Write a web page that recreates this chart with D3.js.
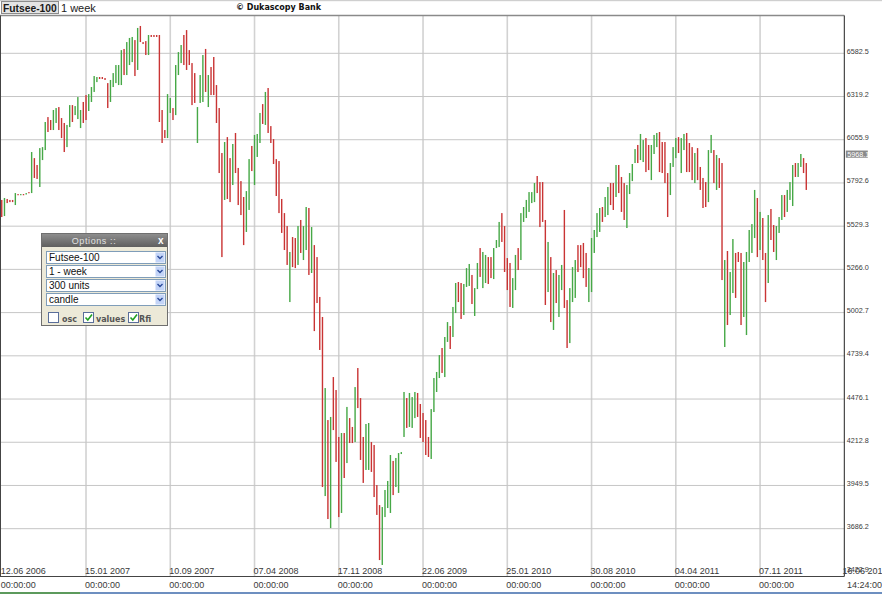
<!DOCTYPE html>
<html><head><meta charset="utf-8">
<script src="https://cdn.jsdelivr.net/npm/d3@7"></script>
<style>html,body{margin:0;padding:0;background:#fff;overflow:hidden}svg{display:block}</style>
</head><body><svg id="c" width="882" height="594"></svg>
<script>
// ---- data (weekly FTSE-100 candles) ----
const opens = [5689,5591,5695,5689,5689,5658,5725,5719,5725,5722,5737,5731,5944,5902,5768,5932,5993,6194,6176,6115,
6158,6255,6188,6158,6011,6133,6267,6206,6182,6127,6286,6328,6231,6286,6347,6407,6438,6438,6432,6401,
6286,6377,6401,6389,6389,6609,6450,6511,6529,6663,6481,6749,6651,6657,6572,6694,6694,6694,6694,6237,
6115,6066,6219,6249,6206,6450,6523,6694,6724,6602,6523,6462,6036,6280,6286,6609,6255,6499,6560,6389,
6249,5975,5689,6072,5944,5780,6097,5884,5804,5707,5494,5628,6018,5780,5951,6036,6273,6146,6371,6139,
6060,5938,5926,5695,5609,5530,5067,5463,5457,5293,5567,5323,5384,5640,5244,5414,5341,5098,4976,3885,
4348,3690,4610,4531,4245,3782,4269,4086,4360,4306,4214,4665,4482,4245,4044,4044,4214,4196,3952,3830,
3465,3757,3812,3782,4099,3940,3904,4141,4245,4482,4306,4300,4360,4513,4446,4391,4348,4245,4111,4397,
4519,4604,4787,4610,4824,4921,4854,5000,5189,5183,4988,5159,5165,5232,4982,5146,5396,5152,5183,5341,
5341,5207,5396,5402,5609,5530,5335,5305,5031,5140,5396,5323,5555,5579,5616,5670,5676,5835,5798,5798,
5567,5128,5341,4897,5262,4976,5140,5628,5079,4817,5067,5092,5414,5414,5427,5366,5067,5128,5366,5463,
5494,5646,5585,5597,5792,5792,5707,5902,5829,5792,5518,5725,5804,5914,6024,5932,5920,6066,6024,5810,
5969,6011,6103,6042,6042,5853,5719,5890,5944,6072,5853,5993,6097,6036,6011,5792,6005,5890,5823,5798,
5676,5975,5993,5750,5944,5914,4793,5378,4988,5122,5366,5372,5366,4976,4866,5311,5366,5457,5701,5384,
5579,5366,5183,5634,5536,5323,5488,5567,5719,5616,5689,5652,5914,5829,5890,5944,5914];
const closes = [5585,5701,5670,5676,5676,5731,5719,5725,5719,5731,5731,5981,5823,5817,6005,6011,6164,6103,6115,6237,
6249,6115,6066,5981,6146,6267,6164,6261,6316,6237,6158,6176,6334,6377,6444,6438,6426,6426,6420,6249,
6420,6462,6511,6511,6602,6450,6651,6676,6682,6444,6737,6651,6639,6572,6694,6682,6682,6682,6164,6036,
6066,6334,6310,6176,6511,6590,6633,6511,6481,6511,6267,6280,6255,6450,6572,6347,6450,6328,6328,6158,
5853,5341,6042,5695,5676,6030,5853,5658,5597,5414,5743,5938,5865,6085,6091,6219,6152,6347,6097,6036,
5908,5713,5609,5488,5384,5293,5372,5280,5274,5530,5366,5530,5646,5232,5524,4890,5061,4775,3940,4543,
3745,4367,4287,4093,3757,4269,3995,4428,4208,4208,4549,4421,4105,3965,4324,4330,4032,3879,3770,3495,
3818,3922,3977,4135,3891,4117,4147,4153,4519,4300,4513,4488,4519,4367,4239,4214,4135,4123,4415,4604,
4641,4744,4635,4854,4945,4781,5037,5183,5067,4964,5177,5274,5299,5055,5152,5305,5220,5372,5354,5177,
5213,5396,5445,5555,5433,5250,5140,5037,5213,5354,5262,5609,5646,5689,5737,5737,5792,5731,5524,5555,
5049,5433,4945,5244,5061,5232,5293,5031,4787,5152,5280,5323,5250,5280,5213,5159,5274,5457,5506,5609,
5640,5555,5707,5768,5658,5628,5902,5731,5616,5567,5780,5853,5908,5999,5914,6091,6054,5859,5871,6024,
6085,6097,5859,5853,5792,5585,5914,6011,6066,5975,6066,6091,5859,5859,5810,5975,5810,5750,5640,5646,
5993,6085,5792,5963,5762,5201,5323,4927,5250,5451,5092,5311,4927,5311,5372,5506,5542,5750,5341,5616,
5323,5067,5597,5445,5372,5530,5585,5719,5585,5750,5798,5902,5829,5914,5969,5853,5750];
const dateLabels = ["12.06 2006","15.01 2007","10.09 2007","07.04 2008","17.11 2008","22.06 2009","25.01 2010","30.08 2010","04.04 2011","07.11 2011"];
const timeLabels = ["00:00:00","00:00:00","00:00:00","00:00:00","00:00:00","00:00:00","00:00:00","00:00:00","00:00:00","00:00:00"];
const labelEvery = 31;
const priceTicks = [3422.9,3686.2,3949.5,4212.8,4476.1,4739.4,5002.7,5266.0,5529.3,5792.6,6055.9,6319.2,6582.5];
const lastPrice = 5968.1;
const lastDate = "16.06 2012";
const lastTime = "14:24:00";
const symbol = "Futsee-100";
const period = "1 week";
const copyright = "\u00a9 Dukascopy Bank";
const optionItems = ["Futsee-100","1 - week","300 units","candle"];
const checkLabels = ["osc","values","Rfi"];
const checkStates = [false,true,true];

// ---- drawing ----
const W = 882, H = 594;
const FONT = "'Liberation Sans', Arial, sans-serif";
const svg = d3.select("#c");
const n = opens.length;
const plotL = 0, plotR = 844.3, plotT = 15.5, plotB = 576.5;

const x = d3.scaleLinear().domain([0, n - 1]).range([1.75, 1.75 + (n - 1) * 2.718]);
const y = d3.scaleLinear().domain([3422.9, 6582.5]).range([571.9, 53.3]);

// top stripe
svg.append("rect").attr("x",0).attr("y",0).attr("width",W).attr("height",1.2).attr("fill","#cfcfcf");

// grid
const tickIdx = dateLabels.map((d,i)=>i*labelEvery);
svg.append("g").selectAll("line").data(tickIdx.slice(1)).join("line")
  .attr("x1",d=>x(d)).attr("x2",d=>x(d)).attr("y1",plotT).attr("y2",plotB)
  .attr("stroke","#d2d2d2").attr("stroke-width",1.6);
svg.append("g").selectAll("line").data(priceTicks.slice(1)).join("line")
  .attr("x1",plotL).attr("x2",plotR).attr("y1",d=>y(d)).attr("y2",d=>y(d))
  .attr("stroke","#c6c6c6").attr("stroke-width",1);

// candles
const idx = d3.range(n);
svg.append("g").selectAll("rect").data(idx).join("rect")
  .attr("x", i => x(i) - 0.7)
  .attr("width", 1.4)
  .attr("y", i => y(Math.max(opens[i], closes[i])))
  .attr("height", i => Math.max(1.2, Math.abs(y(opens[i]) - y(closes[i]))))
  .attr("fill", i => closes[i] >= opens[i] ? "#46a846" : "#c93434");

// frame
svg.append("line").attr("x1",0).attr("x2",plotR).attr("y1",plotT).attr("y2",plotT).attr("stroke","#8a8a8a").attr("stroke-width",1.5);
svg.append("line").attr("x1",0.5).attr("x2",0.5).attr("y1",plotT).attr("y2",plotB).attr("stroke","#444").attr("stroke-width",1);
svg.append("line").attr("x1",plotR).attr("x2",plotR).attr("y1",plotT).attr("y2",plotB).attr("stroke","#222").attr("stroke-width",1);
svg.append("line").attr("x1",0).attr("x2",plotR).attr("y1",plotB).attr("y2",plotB).attr("stroke","#444").attr("stroke-width",1);

// y axis (right)
const yAxis = d3.axisRight(y).tickValues(priceTicks).tickSize(0).tickPadding(2.5).tickFormat(d3.format(".1f"));
const gy = svg.append("g").attr("transform",`translate(${plotR},0)`).call(yAxis);
gy.select(".domain").remove();
gy.selectAll("text").attr("dy","0").attr("fill","#3a3a3a").style("font-family",FONT).style("font-size","7.2px");

// last price marker
const lp = svg.append("g").attr("transform",`translate(${plotR+1.5},${y(lastPrice)})`);
lp.append("rect").attr("x",0).attr("y",-3.6).attr("width",22).attr("height",7.2).attr("fill","#8a8a8a");
lp.append("text").attr("x",1.5).attr("y",2.6).attr("fill","#fff").style("font-family",FONT).style("font-size","7.2px").text(d3.format(".1f")(lastPrice));

// x axis labels (date line + time line)
const xAxis1 = d3.axisBottom(x).tickValues(tickIdx).tickSize(0).tickFormat((d,i)=>dateLabels[i]);
const gx1 = svg.append("g").attr("transform","translate(0,565)").call(xAxis1);
gx1.select(".domain").remove();
gx1.selectAll("text").attr("y",9).attr("dy",0).attr("text-anchor","start").attr("dx","-1.5")
  .attr("fill","#3a3a3a").style("font-family",FONT).style("font-size","9px");
const xAxis2 = d3.axisBottom(x).tickValues(tickIdx).tickSize(0).tickFormat((d,i)=>timeLabels[i]);
const gx2 = svg.append("g").attr("transform","translate(0,578.5)").call(xAxis2);
gx2.select(".domain").remove();
gx2.selectAll("text").attr("y",9).attr("dy",0).attr("text-anchor","start").attr("dx","-1.5")
  .attr("fill","#3a3a3a").style("font-family",FONT).style("font-size","9px");
svg.append("text").attr("x",842.5).attr("y",574).attr("fill","#3a3a3a").style("font-family",FONT).style("font-size","9px").text(lastDate);
svg.append("text").attr("x",847).attr("y",587.5).attr("fill","#3a3a3a").style("font-family",FONT).style("font-size","9px").text(lastTime);

// bottom stripe
svg.append("rect").attr("x",0).attr("y",592).attr("width",W).attr("height",2).attr("fill","#6d8fc0");
svg.append("rect").attr("x",0).attr("y",592).attr("width",80).attr("height",2).attr("fill","#5c9a5c");

// header
svg.append("rect").attr("x",1.5).attr("y",1.5).attr("width",57).attr("height",12).attr("fill","#e4e4e4").attr("stroke","#8c8c8c");
svg.append("text").attr("x",3).attr("y",11.5).attr("fill","#1a1a1a").style("font-family",FONT).style("font-weight","bold").style("font-size","10.3px").text(symbol);
svg.append("text").attr("x",61).attr("y",12).attr("fill","#222").style("font-family",FONT).style("font-size","11px").text(period);
svg.append("text").attr("x",236).attr("y",10).attr("fill","#111").style("font-family","'DejaVu Sans', Verdana, sans-serif").style("font-weight","bold").style("font-size","8px").text(copyright);

// options panel
const defs = svg.append("defs");
const gr = defs.append("linearGradient").attr("id","tb").attr("x1",0).attr("x2",0).attr("y1",0).attr("y2",1);
gr.append("stop").attr("offset","0").attr("stop-color","#8d8d8d");
gr.append("stop").attr("offset","1").attr("stop-color","#5f5f5f");
const op = svg.append("g").attr("transform","translate(41,233)");
op.append("rect").attr("x",0.5).attr("y",0.5).attr("width",126).attr("height",92).attr("fill","#ece9d8").attr("stroke","#6f6f6f");
op.append("rect").attr("x",1).attr("y",1).attr("width",125).attr("height",13).attr("fill","url(#tb)");
op.append("text").attr("x",53).attr("y",10.5).attr("text-anchor","middle").attr("fill","#e2e2e2").style("font-family",FONT).style("font-size","9px").style("letter-spacing","0.6px").text("Options ::");
op.append("text").attr("x",117).attr("y",11).attr("fill","#fff").style("font-family",FONT).style("font-weight","bold").style("font-size","10px").text("x");
optionItems.forEach((t,k)=>{
  const gy0 = 18 + k*14;
  op.append("rect").attr("x",5.5).attr("y",gy0+0.5).attr("width",119).attr("height",12).attr("fill","#fff").attr("stroke","#7f9db9");
  op.append("rect").attr("x",114.5).attr("y",gy0+1.5).attr("width",9).attr("height",10).attr("fill","#c3d4f7");
  op.append("path").attr("d",`M116.5,${gy0+5} L119,${gy0+7.5} L121.5,${gy0+5}`).attr("fill","none").attr("stroke","#2a4a9a").attr("stroke-width",1.4);
  op.append("text").attr("x",8).attr("y",gy0+10).attr("fill","#111").style("font-family",FONT).style("font-size","10px").text(t);
});
const cbX = [7,42,87], lbX = [21,55,98];
checkLabels.forEach((t,k)=>{
  op.append("rect").attr("x",cbX[k]+0.5).attr("y",79.5).attr("width",10).attr("height",10).attr("fill","#fff").attr("stroke","#5a6e9a");
  if (checkStates[k]) op.append("path").attr("d",`M${cbX[k]+2.5},84.5 L${cbX[k]+4.8},87 L${cbX[k]+9},81.5`).attr("fill","none").attr("stroke","#22a022").attr("stroke-width",1.6);
  op.append("text").attr("x",lbX[k]).attr("y",88.5).attr("fill","#555").style("font-family","'DejaVu Sans', Verdana, sans-serif").style("font-weight","bold").style("font-size","8px").text(t);
});
</script></body></html>
